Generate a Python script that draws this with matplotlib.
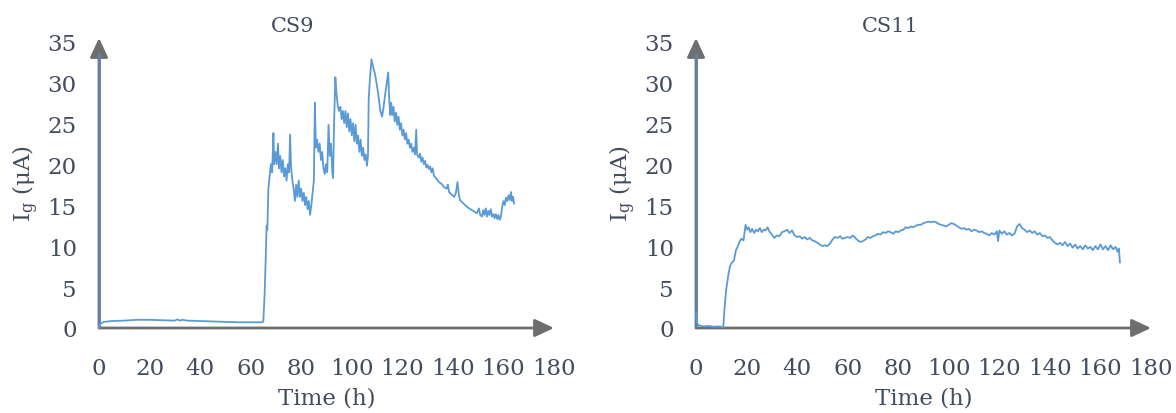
import matplotlib
matplotlib.use("Agg")
import matplotlib.pyplot as plt

# ---------------- data ----------------
cs9_t = [0, 0.3, 2, 5, 10, 15, 20, 25, 30, 31, 32, 33, 35, 40, 45, 50, 55, 60, 64.5,
         65, 65.5, 66, 66.3, 66.6, 67, 67.5, 68, 68.5, 69, 69.3, 69.8, 70.3, 70.8, 71.2, 71.7,
         72.2, 72.7, 73.2, 73.7, 74.2, 74.7, 75.2, 75.6, 76, 76.5, 77, 77.5, 78, 78.5, 79,
         79.5, 80, 80.5, 81, 81.5, 82, 82.5, 83, 83.5, 84, 84.5, 85, 85.4, 85.8, 86.3, 86.8,
         87.3, 87.8, 88.3, 88.8, 89.3, 89.8, 90.3, 90.8, 91.3, 91.8, 92.3, 92.6, 93, 93.5,
         94, 94.5, 95, 95.5, 96, 96.5, 97, 97.5, 98, 98.5, 99, 99.5, 100, 100.5, 101, 101.5,
         102, 102.5, 103, 103.5, 104, 104.5, 105, 105.5, 106, 106.4, 106.7, 107.2, 107.8,
         108.5, 109.2, 110, 110.7, 111.3, 112, 112.6, 113.2, 113.8, 114.4, 114.8, 115.2,
         115.6, 116, 116.5, 117, 117.5, 118, 118.5, 119, 119.5, 120, 120.5, 121, 121.5, 122,
         122.5, 123, 123.5, 124, 124.5, 125, 125.5, 125.8, 126.5, 127, 127.5, 128, 128.5, 129, 129.5,
         130, 130.5, 131, 131.5, 132, 132.5, 133.5, 134.5, 135.5, 136.5, 137.5, 138, 138.5, 139.5, 140.5,
         141.2, 141.8, 142.3, 142.8, 143.5, 144.5, 145.5, 146.5, 147.5, 148.5, 149.5, 150.3,
         150.8, 151.5, 152, 152.5, 153, 153.5, 154, 154.5, 155, 155.5, 156, 156.5, 157, 157.5,
         158, 158.5, 159, 159.5, 160, 160.5, 161, 161.5, 162, 162.5, 163, 163.4, 163.8, 164.2]
cs9_i = [0, 0.5, 0.75, 0.85, 0.9, 1.0, 1.0, 0.95, 0.9, 1.05, 0.9, 1.0, 0.9, 0.85, 0.8, 0.75, 0.7, 0.7, 0.7,
         0.8, 4, 9, 12.5, 12, 17, 18.5, 20, 19, 23.8, 20, 21.5, 20, 22.5, 19.5, 21,
         19, 20.5, 18.5, 19.5, 18, 20, 19, 23.6, 19.5, 18, 17, 15.5, 17.5, 16, 18,
         16, 17, 15.5, 16.5, 15, 16, 14.5, 15.5, 13.8, 15, 16.5, 18, 27.5, 22, 23, 21.5,
         22.5, 20.5, 21.5, 19.5, 18.8, 20, 19, 24.8, 21, 22.5, 19, 18.3, 25, 30.6,
         28.5, 27, 26.5, 27, 25.5, 26.5, 25, 26.5, 24.5, 26.2, 24, 25.5, 23.5, 25, 22.8, 24.8,
         22.5, 23.5, 21.5, 23, 21, 22, 20.5, 21.2, 19.8, 21, 28, 30.5, 32.8,
         31.8, 31, 29.5, 28, 26.5, 25.8, 27, 28.5, 29.8, 31.2, 28, 26,
         27.5, 26, 27, 25.2, 26.3, 24.8, 25.8, 24.2, 25, 23.5, 24.2, 23, 23.8, 22.5,
         23, 22, 22.5, 21.5, 22, 21.2, 24.2, 21.2, 20.8, 21.3, 20.3, 20.8, 20, 20.4, 19.6,
         19.9, 19.4, 19.7, 19, 19.5, 18.6, 18.2, 17.8, 17.6, 17.2, 17.0, 17.5, 16.6, 16.3, 16.0,
         16.5, 17.8, 16.4, 15.6, 15.4, 15.1, 14.8, 14.6, 14.4, 14.2, 14.0, 14.6,
         13.8, 13.6, 14.4, 13.8, 14.6, 13.6, 14.3, 13.8, 14.5, 13.6, 13.9, 13.4, 13.9, 13.3,
         13.8, 13.2, 13.6, 14.8, 15.5, 15.0, 15.9, 15.5, 16.2, 15.6, 16.6, 15.5, 16.0, 15.2]

cs11_t = [0, 0.3, 0.8, 1.5, 3, 5, 7, 9, 10.8, 11.3, 12, 12.8, 13.5, 14.2, 15, 15.8, 16.6, 17.3,
          18, 18.8, 19.6, 20.2, 20.8, 21.5, 22.2, 23, 23.8, 24.5, 25.3, 26, 26.8, 27.5, 28.3,
          29, 30, 31, 32, 33, 34, 35, 36, 37, 38, 39, 40, 41, 42, 43, 44, 45, 46, 47, 48, 49,
          50, 51, 52, 53, 54, 55, 56, 57, 58, 59, 60, 61, 62, 63, 64, 65, 66, 67, 68, 69, 70,
          71, 72, 73, 74, 75, 76, 77, 78, 79, 80, 81, 82, 83, 84, 85, 86, 87, 88, 89, 90, 91,
          92, 93, 94, 95, 96, 97, 98, 99, 100, 101, 102, 103, 104, 105, 106, 107, 108, 109,
          110, 111, 112, 113, 114, 115, 116, 117, 118, 119, 119.5, 120, 121, 122, 123, 124,
          125, 126, 127, 128, 129, 130, 131, 132, 133, 134, 135, 136, 137, 138, 139, 140, 141,
          142, 143, 144, 145, 146, 147, 148, 149, 150, 151, 152, 153, 154, 155, 156, 157, 158,
          159, 160, 161, 162, 163, 164, 165, 166, 166.8, 167.3, 167.7]
cs11_i = [1.8, 0.8, 0.4, 0.3, 0.2, 0.25, 0.15, 0.2, 0.1, 2.5, 4.8, 6.5, 7.6, 8.0, 8.2, 9.5, 10.0, 10.6,
          10.9, 10.7, 12.6, 12.0, 12.3, 11.7, 12.1, 11.6, 12.0, 11.8, 12.2, 11.7, 12.0, 11.9, 12.3,
          11.8, 11.4, 11.0, 11.3, 11.2, 11.7, 11.8, 12.0, 11.6, 11.9, 11.3, 11.1, 11.2, 10.9, 11.1, 10.8, 11.0, 10.7, 10.6, 10.4, 10.2,
          10.0, 10.1, 10.0, 10.3, 10.8, 11.1, 11.0, 11.2, 10.9, 11.0, 11.1, 11.0, 11.3, 11.0, 10.7, 10.5, 10.6, 10.8, 11.1, 11.0, 11.2,
          11.3, 11.5, 11.4, 11.7, 11.6, 11.8, 11.7, 11.5, 11.8, 11.7, 11.9, 12.0, 12.3, 12.2, 12.4, 12.3, 12.5, 12.6, 12.6, 12.8, 12.9,
          13.0, 12.9, 13.0, 12.9, 12.7, 12.6, 12.5, 12.4, 12.6, 12.8, 12.7, 12.5, 12.3, 12.1, 12.2, 12.0, 12.1, 11.8,
          12.0, 11.9, 11.7, 11.8, 11.6, 11.5, 11.3, 11.6, 11.4, 11.8, 10.6, 11.9, 11.5, 11.8, 11.4, 11.6,
          11.3, 11.5, 12.4, 12.7, 12.2, 12.0, 11.7, 11.9, 11.6, 11.8, 11.4, 11.6, 11.2, 11.3, 11.0, 11.1, 10.7,
          10.4, 10.2, 10.4, 10.1, 10.5, 10.0, 10.3, 9.8, 10.2, 9.7, 10.0, 9.6, 10.1, 9.7, 9.9, 9.5, 10.0,
          9.6, 10.2, 9.6, 10.0, 9.5, 10.1, 9.6, 9.9, 9.3, 9.7, 8.0]

titles = ["CS9", "CS11"]
series = [(cs9_t, cs9_i), (cs11_t, cs11_i)]
xticks = [0, 20, 40, 60, 80, 100, 120, 140, 160, 180]
yticks = [0, 5, 10, 15, 20, 25, 30, 35]

# ---------------- style ----------------
plt.rcParams['font.family'] = ['DejaVu Serif']
plt.rcParams['mathtext.fontset'] = 'dejavuserif'
text_col = '#434c5c'
line_col = '#5b9bd5'
axis_gray = '#6e6e6e'
yaxis_col = '#5f80a8'

fig = plt.figure(figsize=(11.76, 4.14), dpi=100)
positions = [[99/1176, 85/414, 455/1176, 290/414],
             [696/1176, 85/414, 455/1176, 290/414]]
title_x = [293/1176, 890/1176]

for k, (pos, (t, i)) in enumerate(zip(positions, series)):
    ax = fig.add_axes(pos)
    ax.plot(t, i, color=line_col, lw=1.3, zorder=3, clip_on=False)
    ax.set_xlim(0, 180)
    ax.set_ylim(0, 35.4)
    ax.set_xticks(xticks)
    ax.set_yticks(yticks)
    for s in ax.spines.values():
        s.set_visible(False)
    ax.tick_params(length=0, labelsize=16.5, colors=text_col)
    ax.tick_params(axis='x', pad=21)
    ax.tick_params(axis='y', pad=16)
    # axis arrows
    ax.annotate('', xy=(1, 0), xytext=(0, 0), xycoords='axes fraction',
                arrowprops=dict(arrowstyle='-|>,head_length=0.9,head_width=0.42',
                                mutation_scale=13, color=axis_gray, lw=2,
                                shrinkA=0, shrinkB=0), zorder=2)
    ax.annotate('', xy=(0, 1), xytext=(0, 0), xycoords='axes fraction',
                arrowprops=dict(arrowstyle='-|>,head_length=0.9,head_width=0.42',
                                mutation_scale=13, color=axis_gray, lw=2,
                                shrinkA=0, shrinkB=0), zorder=2)
    ax.plot([0, 0], [0, 0.95], transform=ax.transAxes, color=yaxis_col, lw=2,
            zorder=2.5, clip_on=False, solid_capstyle='butt')
    ax.set_xlabel('Time (h)', fontsize=16.5, color=text_col, labelpad=5)
    ax.set_ylabel(r'I$_\mathregular{g}$ (μA)', fontsize=16.5, color=text_col, labelpad=5)
    fig.text(title_x[k], 1 - 27/414, titles[k], ha='center', va='center',
             fontsize=15, color=text_col)

fig.savefig('out.png', dpi=100)
